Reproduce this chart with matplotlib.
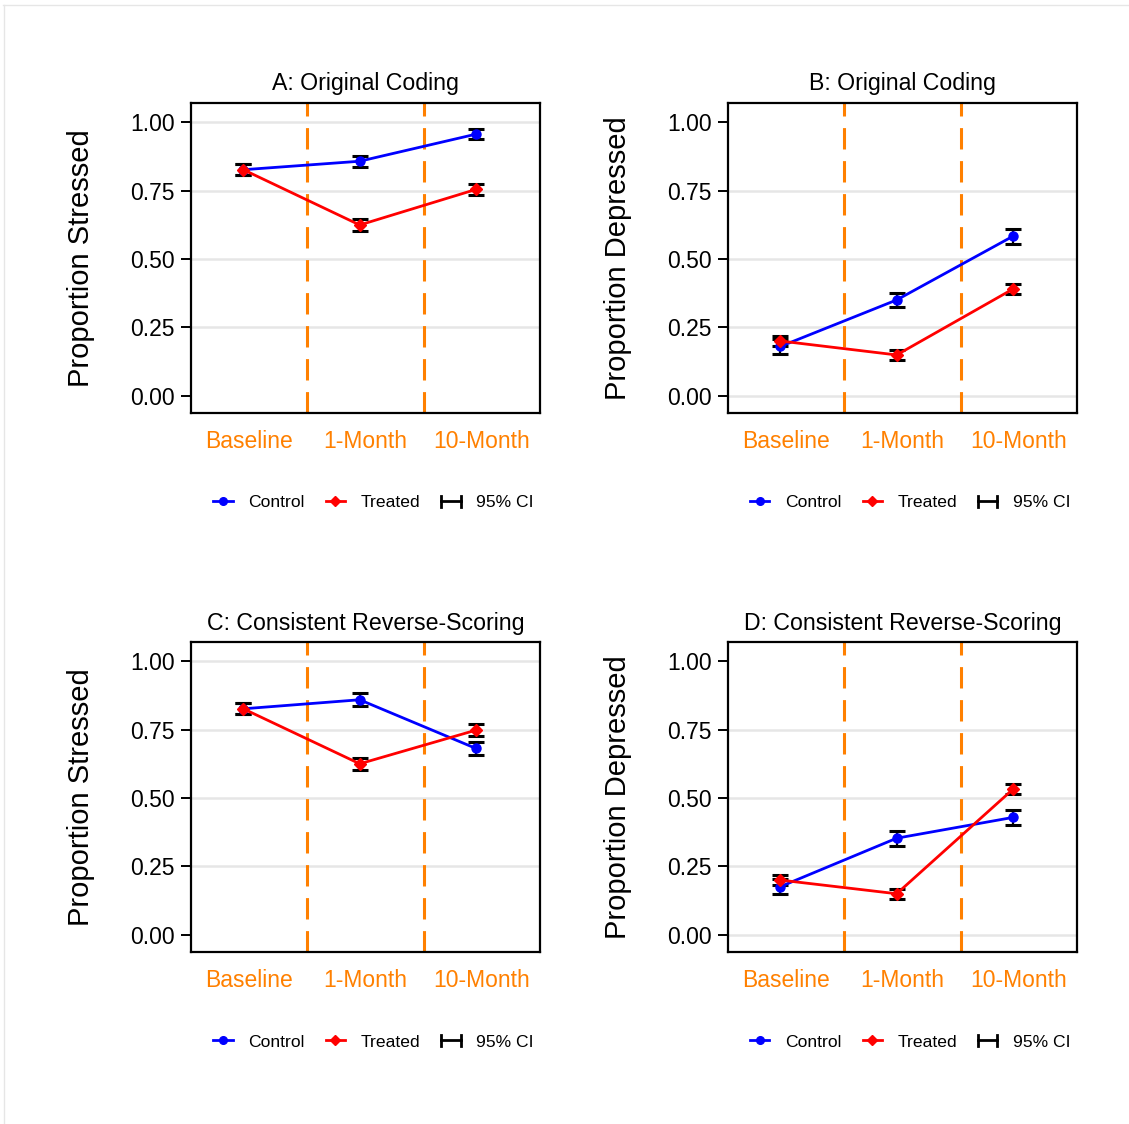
import matplotlib
matplotlib.use("Agg")
import matplotlib.pyplot as plt
from matplotlib.lines import Line2D
from matplotlib.legend_handler import HandlerBase

plt.rcParams['font.family'] = ['Liberation Sans', 'DejaVu Sans']

# datos
waves = ['Baseline', '1-Month', '10-Month']
x_pts = [1, 2, 3]

titles = ['A: Original Coding', 'B: Original Coding',
          'C: Consistent Reverse-Scoring', 'D: Consistent Reverse-Scoring']
ylabels = ['Proportion Stressed', 'Proportion Depressed',
           'Proportion Stressed', 'Proportion Depressed']

control_A = [0.826, 0.857, 0.956]
control_A_ci = [0.020, 0.020, 0.019]
treated_A = [0.826, 0.624, 0.754]
treated_A_ci = [0.020, 0.021, 0.021]

control_B = [0.180, 0.350, 0.583]
control_B_ci = [0.028, 0.027, 0.027]
treated_B = [0.200, 0.149, 0.390]
treated_B_ci = [0.018, 0.019, 0.020]

control_C = [0.826, 0.859, 0.681]
control_C_ci = [0.020, 0.024, 0.025]
treated_C = [0.826, 0.625, 0.748]
treated_C_ci = [0.020, 0.021, 0.021]

control_D = [0.176, 0.353, 0.429]
control_D_ci = [0.028, 0.028, 0.027]
treated_D = [0.200, 0.150, 0.532]
treated_D_ci = [0.018, 0.019, 0.019]

yticks = [0, 0.25, 0.5, 0.75, 1.0]
grid_AC = [0.25, 0.5, 0.75, 1.0]
grid_BD = [0, 0.25, 0.5, 0.75]

paneles = [
    (control_A, control_A_ci, treated_A, treated_A_ci, grid_AC),
    (control_B, control_B_ci, treated_B, treated_B_ci, grid_BD),
    (control_C, control_C_ci, treated_C, treated_C_ci, grid_AC),
    (control_D, control_D_ci, treated_D, treated_D_ci, grid_BD),
]

naranja = '#ff8000'


class HandlerCI(HandlerBase):
    # dibuja |-| para el intervalo de confianza
    def create_artists(self, legend, orig_handle, xdescent, ydescent,
                       width, height, fontsize, trans):
        y = height / 2 - ydescent
        x0, x1 = -xdescent, width - xdescent
        h = height * 0.45
        arts = [Line2D([x0, x1], [y, y], color='black', lw=2),
                Line2D([x0, x0], [y - h, y + h], color='black', lw=2),
                Line2D([x1, x1], [y - h, y + h], color='black', lw=2)]
        for a in arts:
            a.set_transform(trans)
        return arts


fig = plt.figure(figsize=(11.29, 11.24), dpi=100)

# marco tenue arriba e izquierda
fig.add_artist(Line2D([0.003, 0.999], [0.9955, 0.9955], color='#e6e6e6', lw=1,
                      transform=fig.transFigure))
fig.add_artist(Line2D([0.0035, 0.0035], [0.0, 0.9955], color='#e6e6e6', lw=1,
                      transform=fig.transFigure))

lefts = [0.1692, 0.6448, 0.1692, 0.6448]
bottoms = [0.6326, 0.6326, 0.1530, 0.1530]
ancho, alto = 0.3091, 0.2758

for i, (ctrl, ctrl_ci, trt, trt_ci, grid_vals) in enumerate(paneles):
    ax = fig.add_axes([lefts[i], bottoms[i], ancho, alto])
    ax.set_xlim(0.55, 3.55)
    ax.set_ylim(-0.063, 1.07)

    for g in grid_vals:
        ax.axhline(g, color='#e6e6e6', lw=1.8, zorder=0)
    for xv in [1.55, 2.55]:
        ax.axvline(xv, color=naranja, lw=2.2, dashes=(7, 3.8), zorder=1)

    ax.errorbar(x_pts, ctrl, yerr=ctrl_ci, fmt='none', ecolor='black',
                elinewidth=1.6, capsize=5.5, capthick=2.2, zorder=3)
    ax.errorbar(x_pts, trt, yerr=trt_ci, fmt='none', ecolor='black',
                elinewidth=1.6, capsize=5.5, capthick=2.2, zorder=3)
    ax.plot(x_pts, ctrl, color='blue', lw=2, marker='o', ms=6.5, zorder=4)
    ax.plot(x_pts, trt, color='red', lw=2, marker='D', ms=6, zorder=5)

    ax.set_xticks([1.05, 2.05, 3.05])
    ax.set_xticklabels(waves, color=naranja, fontsize=16.5)
    ax.tick_params(axis='x', length=0, pad=12)
    ax.set_yticks(yticks)
    ax.set_yticklabels(['%.2f' % v for v in yticks], fontsize=16.5)
    ax.tick_params(axis='y', length=7.5, width=1.4, pad=4)

    for s in ax.spines.values():
        s.set_linewidth(1.6)

    ax.set_title(titles[i], fontsize=16.7, pad=9)
    ax.set_ylabel(ylabels[i], fontsize=21)
    ax.yaxis.set_label_coords(-0.275, 0.5)

    handles = [Line2D([], [], color='blue', lw=2, marker='o', ms=5.5),
               Line2D([], [], color='red', lw=2, marker='D', ms=5),
               Line2D([], [], color='black')]
    ax.legend(handles, ['Control', 'Treated', '95% CI'],
              handler_map={handles[2]: HandlerCI()},
              loc='center', bbox_to_anchor=(0.523, -0.29), ncol=3,
              frameon=False, fontsize=12.6, handlelength=1.1,
              handletextpad=0.9, columnspacing=1.2)

fig.savefig('out.png', dpi=100)
